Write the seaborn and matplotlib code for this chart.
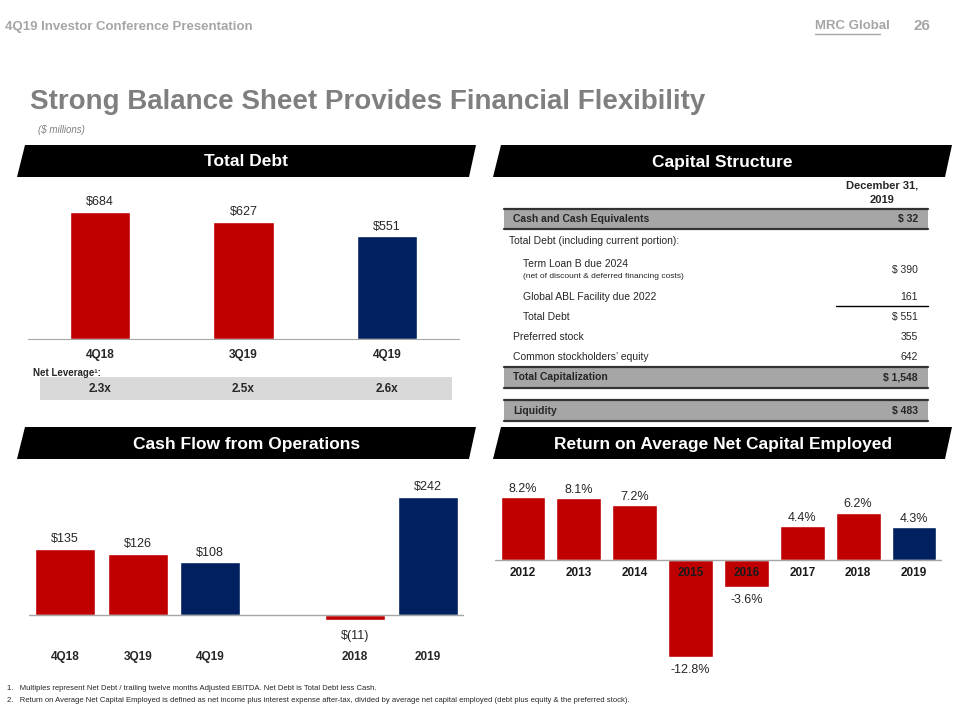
import matplotlib as mpl
mpl.use('Agg')

import matplotlib.pyplot as plt
import pandas as pd
import seaborn as sns
from matplotlib.patches import Polygon, Rectangle
from matplotlib.lines import Line2D
from matplotlib.transforms import Affine2D

RED = '#C00000'
NAVY = '#002060'
AXIS_GRAY = '#a6a6a6'
TXT = '#262626'

# --- data ---
debt_periods = ['4Q18', '3Q19', '4Q19']
debt_values = [684, 627, 551]
debt_labels = ['$684', '$627', '$551']
leverage = ['2.3x', '2.5x', '2.6x']

cfo_periods = ['4Q18', '3Q19', '4Q19', '2018', '2019']
cfo_values = [135, 126, 108, -11, 242]
cfo_labels = ['$135', '$126', '$108', '$(11)', '$242']
cfo_order = ['4Q18', '3Q19', '4Q19', ' ', '2018', '2019']

roce_years = ['2012', '2013', '2014', '2015', '2016', '2017', '2018', '2019']
roce_values = [8.2, 8.1, 7.2, -12.8, -3.6, 4.4, 6.2, 4.3]

cap_items = ['Cash and Cash Equivalents', 'Total Debt (including current portion):',
             'Term Loan B due 2024', 'Global ABL Facility due 2022', 'Total Debt',
             'Preferred stock', "Common stockholders\u2019 equity",
             'Total Capitalization', 'Liquidity']
cap_values = ['$ 32', '', '$ 390', '161', '$ 551', '355', '642', '$ 1,548', '$ 483']

sns.set_style('white')
plt.rcParams['font.family'] = ['Liberation Sans Narrow', 'Liberation Sans', 'DejaVu Sans']

fig = plt.figure(figsize=(9.6, 7.2), dpi=100)
# pixel coordinates, origin top-left
pix = Affine2D().scale(1 / 960, -1 / 720).translate(0, 1) + fig.transFigure


def add_axes(x0, y0, x1, y1):
    return fig.add_axes([x0 / 960, 1 - y1 / 720, (x1 - x0) / 960, (y1 - y0) / 720])


def banner(x0, x1, y0, y1, title):
    fig.add_artist(Polygon([(x0 + 8, y0), (x1, y0), (x1 - 7, y1), (x0, y1)],
                           closed=True, facecolor='black', edgecolor='none', transform=pix))
    fig.text((x0 + x1) / 2, (y0 + y1) / 2 + 1, title, transform=pix, color='white',
             fontsize=12.5, fontweight='bold', ha='center', va='center')


def hline(x0, x1, y, lw=1.0, color='black'):
    fig.add_artist(Line2D([x0, x1], [y, y], color=color, lw=lw, transform=pix))


# --- header ---
fig.text(5, 27, '4Q19 Investor Conference Presentation', transform=pix, color='#a6a6a6',
         fontsize=9.5, fontweight='bold', va='center')
fig.text(815, 26, 'MRC Global', transform=pix, color='#a6a6a6', fontsize=9.5,
         fontweight='bold', va='center')
hline(815, 880, 34, lw=1.0, color='#a6a6a6')
fig.text(930, 26, '26', transform=pix, color='#a6a6a6', fontsize=11,
         fontweight='bold', va='center', ha='right')
fig.text(30, 102, 'Strong Balance Sheet Provides Financial Flexibility', transform=pix,
         color='#7f7f7f', fontsize=20, fontweight='bold', va='center')
fig.text(38, 130, '($ millions)', transform=pix, color='#7f7f7f', fontsize=7,
         style='italic', va='center')

banner(17, 476, 145, 177, 'Total Debt')
banner(493, 952, 145, 177, 'Capital Structure')
banner(17, 476, 427, 459, 'Cash Flow from Operations')
banner(493, 952, 427, 459, 'Return on Average Net Capital Employed')

# --- Total Debt ---
ax1 = add_axes(28, 190, 459, 339)
debt_df = pd.DataFrame({'period': debt_periods, 'value': debt_values})
sns.barplot(data=debt_df, x='period', y='value', hue='period', legend=False, width=0.42,
            palette={'4Q18': RED, '3Q19': RED, '4Q19': NAVY}, saturation=1, ax=ax1)
ax1.set_xlim(-0.5, 2.5)
ax1.set_ylim(0, 800)
sns.despine(ax=ax1, left=True)
ax1.spines['bottom'].set_color(AXIS_GRAY)
ax1.set_yticks([])
ax1.set_xlabel('')
ax1.set_ylabel('')
ax1.tick_params(axis='x', length=0, pad=7, labelsize=8.5)
for t in ax1.get_xticklabels():
    t.set_fontweight('bold')
for i, (v, lab) in enumerate(zip(debt_values, debt_labels)):
    ax1.annotate(lab, (i, v), xytext=(0, 7), textcoords='offset points', ha='center',
                 va='center', fontsize=9, color=TXT)

fig.text(33, 373, 'Net Leverage\u00b9:', transform=pix, fontsize=7, fontweight='bold',
         va='center')
fig.add_artist(Rectangle((40, 377), 412, 23, transform=pix, facecolor='#d9d9d9',
                         edgecolor='none', zorder=-1))
for i, lev in enumerate(leverage):
    ax1.annotate(lev, (i, 389), xycoords=('data', pix), ha='center', va='center',
                 fontsize=8.5, fontweight='bold', annotation_clip=False)

# --- Capital Structure table ---
fig.text(882, 185, 'December 31,', transform=pix, fontsize=8, fontweight='bold',
         ha='center', va='center')
fig.text(882, 200, '2019', transform=pix, fontsize=8, fontweight='bold',
         ha='center', va='center')
band_rows = {0: (209, 229), 7: (367, 388), 8: (400, 421)}
for k, (y0, y1) in band_rows.items():
    fig.add_artist(Rectangle((504, y0), 424, y1 - y0, transform=pix, facecolor='#a6a6a6',
                             edgecolor='none'))
    hline(504, 928, y0, lw=1.6, color='#333333')
    hline(504, 928, y1, lw=1.6, color='#333333')
row_y = [219, 241, 264, 297, 317, 337, 357, 377, 411]
row_x = [513, 509, 523, 523, 523, 513, 513, 513, 513]
for k, (item, val) in enumerate(zip(cap_items, cap_values)):
    bold = 'bold' if k in band_rows else 'normal'
    fig.text(row_x[k], row_y[k], item, transform=pix, fontsize=7.5, fontweight=bold,
             va='center')
    vy = 270 if k == 2 else row_y[k]
    fig.text(918, vy, val, transform=pix, fontsize=7.5, fontweight=bold, va='center',
             ha='right')
fig.text(523, 277, '(net of discount & deferred financing costs)', transform=pix,
         fontsize=6, va='center')
hline(836, 928, 306, lw=1.0)

# --- Cash Flow from Operations ---
ax2 = add_axes(29, 480, 464, 645)
cfo_df = pd.DataFrame({'period': cfo_periods, 'value': cfo_values})
sns.barplot(data=cfo_df, x='period', y='value', hue='period', order=cfo_order,
            legend=False, width=0.83, saturation=1, ax=ax2,
            palette={'4Q18': RED, '3Q19': RED, '4Q19': NAVY, '2018': RED, '2019': NAVY})
ax2.set_xlim(-0.5, 5.5)
ax2.set_ylim(-61.5, 277)
ax2.axhline(0, color=AXIS_GRAY, lw=1)
sns.despine(ax=ax2, left=True, bottom=True)
ax2.set_yticks([])
ax2.set_xlabel('')
ax2.set_ylabel('')
ax2.tick_params(axis='x', length=0, pad=4, labelsize=8.5)
for t in ax2.get_xticklabels():
    t.set_fontweight('bold')
for p, v, lab in zip(cfo_periods, cfo_values, cfo_labels):
    i = cfo_order.index(p)
    off = 7 if v >= 0 else -11
    ax2.annotate(lab, (i, v), xytext=(0, off), textcoords='offset points', ha='center',
                 va='center', fontsize=9, color=TXT)

# --- Return on Average Net Capital Employed ---
ax3 = add_axes(495, 480, 942, 680)
roce_df = pd.DataFrame({'year': roce_years, 'value': roce_values})
sns.barplot(data=roce_df, x='year', y='value', hue='year', legend=False, width=0.8,
            saturation=1, ax=ax3,
            palette={y: (NAVY if y == '2019' else RED) for y in roce_years})
ax3.set_xlim(-0.5, 7.5)
ax3.set_ylim(-15.8, 10.5)
ax3.axhline(0, color=AXIS_GRAY, lw=1)
sns.despine(ax=ax3, left=True, bottom=True)
ax3.set_xticks([])
ax3.set_yticks([])
ax3.set_xlabel('')
ax3.set_ylabel('')
for i, (y, v) in enumerate(zip(roce_years, roce_values)):
    ax3.annotate(y, (i, 0), xytext=(0, -9.5), textcoords='offset points', ha='center',
                 va='center', fontsize=8.5, fontweight='bold', color='#1a1a1a')
    off = 6 if v >= 0 else -9
    ax3.annotate(f'{v:.1f}%', (i, v), xytext=(0, off), textcoords='offset points',
                 ha='center', va='center', fontsize=9, color=TXT)

# --- footnotes ---
fig.text(7, 689, '1.   Multiples represent Net Debt / trailing twelve months Adjusted EBITDA. '
         'Net Debt is Total Debt less Cash.', transform=pix, fontsize=5.5, va='center')
fig.text(7, 701, '2.   Return on Average Net Capital Employed is defined as net income plus '
         'interest expense after-tax, divided by average net capital employed '
         '(debt plus equity & the preferred stock).', transform=pix, fontsize=5.5,
         va='center')

fig.savefig('out.png', dpi=100)
